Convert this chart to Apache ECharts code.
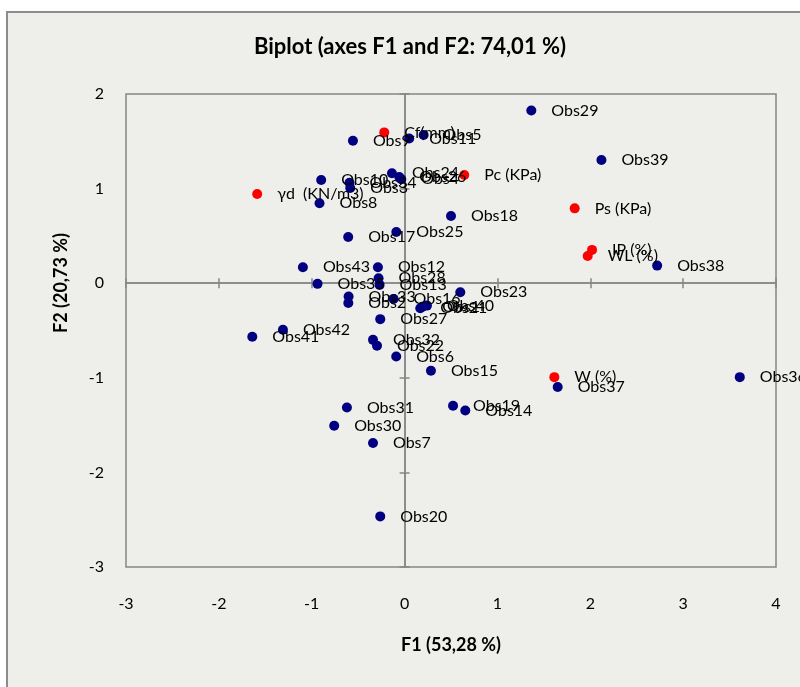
<!DOCTYPE html>
<html>
<head>
<meta charset="utf-8">
<script src="https://cdn.jsdelivr.net/npm/echarts@6/dist/echarts.min.js"></script>
<style>html,body{margin:0;padding:0;background:#fff;}#c{width:800px;height:687px;}</style>
</head>
<body>
<div id="c"></div>
<script>
// Observations
const obsNames = ['Obs1','Obs2','Obs3','Obs4','Obs5','Obs6','Obs7','Obs8','Obs9','Obs10','Obs11','Obs12','Obs13','Obs14','Obs15','Obs16','Obs17','Obs18','Obs19','Obs20','Obs21','Obs22','Obs23','Obs24','Obs25','Obs26','Obs27','Obs28','Obs29','Obs30','Obs31','Obs32','Obs33','Obs34','Obs35','Obs36','Obs37','Obs38','Obs39','Obs40','Obs41','Obs42','Obs43'];
const obsX = [0.19,-0.606,-0.585,-0.036,0.205,-0.09,-0.34,-0.916,-0.556,-0.898,0.05,-0.287,-0.269,0.654,0.284,-0.119,-0.607,0.50,0.522,-0.262,0.169,-0.297,0.60,-0.136,-0.089,-0.057,-0.262,-0.28,1.365,-0.758,-0.621,-0.34,-0.603,-0.593,-0.9375,3.61,1.649,2.72,2.12,0.241,-1.64,-1.31,-1.095];
const obsY = [-0.25,-0.21,1.006,1.10,1.566,-0.775,-1.69,0.845,1.506,1.091,1.53,0.169,-0.018,-1.345,-0.926,-0.166,0.489,0.711,-1.296,-2.465,-0.264,-0.662,-0.095,1.162,0.542,1.122,-0.38,0.053,1.826,-1.507,-1.314,-0.599,-0.141,1.062,-0.007,-0.993,-1.098,0.186,1.302,-0.237,-0.567,-0.493,0.169];
// Variables
const varNames = ['Cf(mm)','Pc (KPa)','\u03b3d  (KN/m3)','Ps (KPa)','IP (%)','WL (%)','W (%)'];
const varX = [-0.219,0.643,-1.587,1.832,2.019,1.972,1.613];
const varY = [1.594,1.144,0.943,0.791,0.352,0.288,-0.993];
// Axes
const xMin = -3, xMax = 4, yMin = -3, yMax = 2, step = 1;
const titleText = 'Biplot (axes F1 and F2: 74,01 %)';
const xName = 'F1 (53,28 %)';
const yName = 'F2 (20,73 %)';

const FONT = 'Lato, "Open Sans", sans-serif';
const obsData = obsNames.map((n,i)=>({name:n, value:[obsX[i], obsY[i]]}));
const varData = varNames.map((n,i)=>({name:n, value:[varX[i], varY[i]]}));

const lineCol = '#868686';
function centerX(inside){
  return {type:'value', min:xMin, max:xMax, interval:step, position:'bottom',
    axisLine:{show:true, onZero:true, onZeroAxisIndex:0, lineStyle:{color:lineCol, width:1.5}},
    axisTick:{show:true, inside:inside, length:5, lineStyle:{color:lineCol, width:1.5}},
    axisLabel:{show:false}, splitLine:{show:false}};
}
function centerY(inside){
  return {type:'value', min:yMin, max:yMax, interval:step, position:'left',
    axisLine:{show:true, onZero:true, onZeroAxisIndex:0, lineStyle:{color:lineCol, width:1.5}},
    axisTick:{show:true, inside:inside, length:5, lineStyle:{color:lineCol, width:1.5}},
    axisLabel:{show:false}, splitLine:{show:false}};
}
const labelStyle = {show:true, position:'right', distance:15, formatter:'{b}', color:'#000', fontSize:16, fontFamily:FONT};

const chart = echarts.init(document.getElementById('c'), null, {renderer:'canvas'});
chart.setOption({
  animation:false,
  backgroundColor:'#ffffff',
  graphic:[
    {type:'rect', z:-100, silent:true, shape:{x:7, y:12, width:900, height:800}, style:{fill:'#EEEEEA', stroke:'#8C8C8C', lineWidth:2}},
    {type:'text', z:10, x:410, y:47, style:{text:titleText, textAlign:'center', textVerticalAlign:'middle', font:'bold 22px '+FONT, fill:'#000'}},
    {type:'text', z:10, x:61, y:283, rotation:Math.PI/2, style:{text:yName, textAlign:'center', textVerticalAlign:'middle', font:'bold 18px '+FONT, fill:'#000'}}
  ],
  grid:{left:126, top:94, width:650, height:473, show:true, borderColor:lineCol, borderWidth:1.5, backgroundColor:'transparent'},
  xAxis:[
    {type:'value', min:xMin, max:xMax, interval:step, position:'bottom',
      axisLine:{show:false, onZero:false}, axisTick:{show:false}, splitLine:{show:false},
      axisLabel:{margin:29, fontSize:16, color:'#000', fontFamily:FONT},
      name:xName, nameLocation:'middle', nameGap:69,
      nameTextStyle:{fontSize:18, fontWeight:'bold', color:'#000', fontFamily:FONT}},
    centerX(true), centerX(false)
  ],
  yAxis:[
    {type:'value', min:yMin, max:yMax, interval:step, position:'left',
      axisLine:{show:false, onZero:false}, axisTick:{show:false}, splitLine:{show:false},
      axisLabel:{margin:22, fontSize:16, color:'#000', fontFamily:FONT}},
    centerY(true), centerY(false)
  ],
  series:[
    {type:'scatter', name:'Observations', xAxisIndex:0, yAxisIndex:0, data:obsData, symbol:'circle', symbolSize:10,
      itemStyle:{color:'#000080', opacity:1}, label:labelStyle},
    {type:'scatter', name:'Variables', xAxisIndex:0, yAxisIndex:0, data:varData, symbol:'circle', symbolSize:10,
      itemStyle:{color:'#FF0000', opacity:1}, label:labelStyle}
  ]
});
</script>
</body>
</html>
